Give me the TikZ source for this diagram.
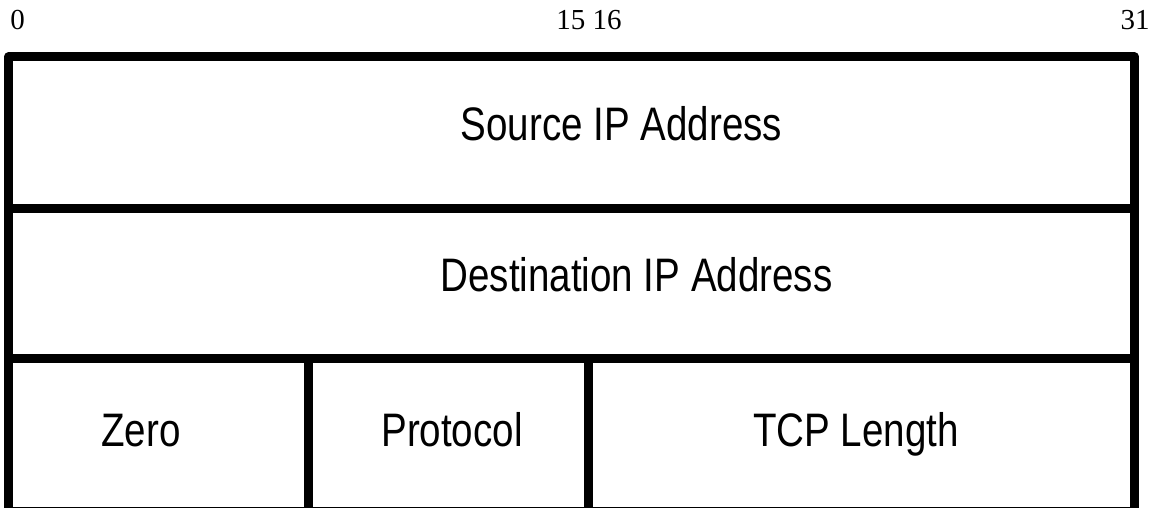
\documentclass[tikz,border=0pt]{standalone}
\usepackage{fontspec}
\setmainfont{Liberation Serif}
\newfontfamily\labfont[FakeStretch=0.82]{Liberation Sans}
\begin{document}
\begin{tikzpicture}[x=1pt,y=-1pt,
  box/.style={line width=9pt, line join=round},
  fieldlabel/.style={font=\labfont\fontsize{47}{50}\selectfont, anchor=base, inner sep=0pt},
  bitlabel/.style={font=\fontsize{29}{32}\selectfont, anchor=base, inner sep=0pt}]
\useasboundingbox (0,0) rectangle (1156,508);
% frame and field borders
\draw[box] (8.5,57) rectangle (1134.5,511);
\draw[box] (8.5,208) -- (1134.5,208);
\draw[box] (8.5,358.5) -- (1134.5,358.5);
\draw[box] (308,358.5) -- (308,511);
\draw[box] (588,358.5) -- (588,511);
% bit numbers
\node[bitlabel] (b0) at (17.5,30) {0};
\node[bitlabel] (b15) at (589,30) {15 16};
\node[bitlabel] (b31) at (1135,30) {31};
% field labels
\node[fieldlabel] (src) at (621.5,140) {Source IP Address};
\node[fieldlabel] (dst) at (636.5,291) {Destination IP Address};
\node[fieldlabel] (zero) at (141,446.5) {Zero};
\node[fieldlabel] (proto) at (452,446.5) {Protocol};
\node[fieldlabel] (len) at (856,446.5) {TCP Length};
\end{tikzpicture}
\end{document}
